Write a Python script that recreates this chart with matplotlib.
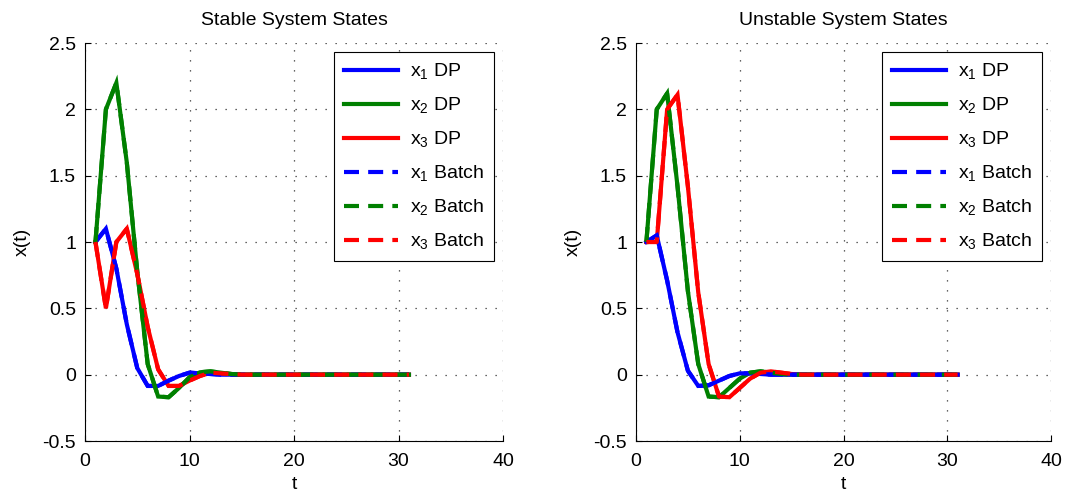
import matplotlib
matplotlib.use("Agg")
import matplotlib.pyplot as plt
import numpy as np

plt.rcParams['font.family'] = ['Liberation Sans', 'DejaVu Sans']
plt.rcParams['mathtext.fontset'] = 'custom'
plt.rcParams['mathtext.rm'] = 'Liberation Sans'

t = list(range(1, 32))

def pad(vals):
    return vals + [0.0] * (31 - len(vals))

# Stable system
s_x1_dp = pad([1.0, 1.10, 0.80, 0.38, 0.05, -0.085, -0.085, -0.045, -0.01, 0.015, 0.01, 0.005])
s_x2_dp = pad([1.0, 2.0, 2.2, 1.6, 0.78, 0.08, -0.165, -0.17, -0.10, -0.02, 0.018, 0.025, 0.015, 0.005])
s_x3_dp = pad([1.0, 0.5, 1.0, 1.1, 0.76, 0.36, 0.04, -0.085, -0.085, -0.045, -0.01, 0.015, 0.01, 0.005])
s_x1_batch = list(s_x1_dp)
s_x2_batch = list(s_x2_dp)
s_x3_batch = list(s_x3_dp)

# Unstable system
u_x1_dp = pad([1.0, 1.05, 0.71, 0.32, 0.03, -0.085, -0.08, -0.045, -0.01, 0.01, 0.01, 0.005])
u_x2_dp = pad([1.0, 2.0, 2.12, 1.42, 0.63, 0.08, -0.165, -0.17, -0.10, -0.03, 0.015, 0.025, 0.015, 0.005])
u_x3_dp = pad([1.0, 1.0, 2.0, 2.11, 1.42, 0.62, 0.08, -0.165, -0.17, -0.10, -0.03, 0.015, 0.025, 0.015, 0.005])
u_x1_batch = list(u_x1_dp)
u_x2_batch = list(u_x2_dp)
u_x3_batch = list(u_x3_dp)

titles = ["Stable System States", "Unstable System States"]
labels_dp = [r"x$_\mathregular{1}$ DP", r"x$_\mathregular{2}$ DP", r"x$_\mathregular{3}$ DP"]
labels_batch = [r"x$_\mathregular{1}$ Batch", r"x$_\mathregular{2}$ Batch", r"x$_\mathregular{3}$ Batch"]
colors = ["#0000ff", "#008000", "#ff0000"]
yticks = [-0.5, 0, 0.5, 1, 1.5, 2, 2.5]
ytick_labels = ["-0.5", "0", "0.5", "1", "1.5", "2", "2.5"]
xticks = [0, 10, 20, 30, 40]

FS = 14
W, H = 1067, 493
fig = plt.figure(figsize=(W / 100, H / 100), dpi=100)
ax1 = fig.add_axes([85 / W, (H - 441) / H, (503 - 85) / W, (441 - 43) / H])
ax2 = fig.add_axes([636 / W, (H - 441) / H, (1051 - 636) / W, (441 - 43) / H])

panels = [
    (ax1, [s_x1_dp, s_x2_dp, s_x3_dp], [s_x1_batch, s_x2_batch, s_x3_batch], [2.0, 2.2, 2.1]),
    (ax2, [u_x1_dp, u_x2_dp, u_x3_dp], [u_x1_batch, u_x2_batch, u_x3_batch], [2.2, 2.0, 2.1]),
]

for i, (ax, dps, batches, zs) in enumerate(panels):
    for y, c, lab, z in zip(dps, colors, labels_dp, zs):
        ax.plot(t, y, color=c, lw=3, label=lab, zorder=z, solid_joinstyle='miter')
    for j, (y, c, lab) in enumerate(zip(batches, colors, labels_batch)):
        ax.plot(t, y, color=c, lw=3, ls=(0, (3.6, 2.2)), label=lab, zorder=3 + 0.1 * j)
    ax.set_xlim(0, 40)
    ax.set_ylim(-0.5, 2.5)
    ax.set_xticks(xticks)
    ax.set_yticks(yticks)
    ax.set_yticklabels(ytick_labels)
    ax.tick_params(direction='in', length=4, labelsize=FS, width=0.8)
    ax.tick_params(axis='x', pad=8.5)
    ax.tick_params(axis='y', pad=6.5)
    ax.spines['top'].set_visible(False)
    ax.spines['right'].set_visible(False)
    ax.grid(True, color='#333333', linestyle=(0, (1, 7)), linewidth=0.9)
    ax.set_title(titles[i], fontsize=FS, pad=13)
    ax.set_xlabel("t", fontsize=FS, labelpad=4.5)
    ax.set_ylabel("x(t)", fontsize=FS, labelpad=8)
    leg = ax.legend(loc='upper right', fontsize=FS, handlelength=2.8, handletextpad=0.62,
                    labelspacing=0.7, borderpad=0.5, borderaxespad=0, fancybox=False,
                    framealpha=1, edgecolor='black', bbox_to_anchor=(0.9785, 0.977))
    leg.get_frame().set_linewidth(0.8)

fig.savefig("out.png", dpi=100)
